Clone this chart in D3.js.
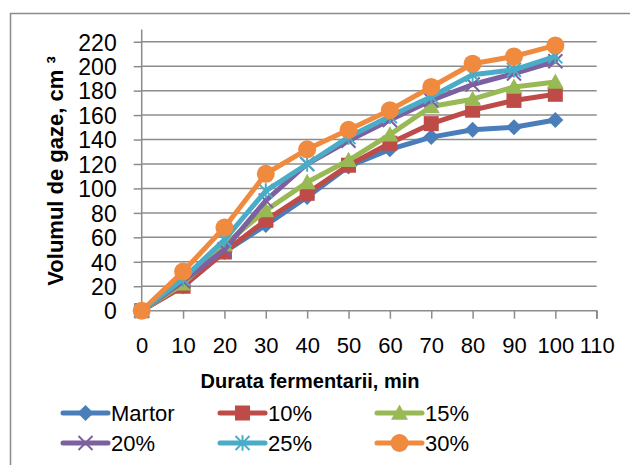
<!DOCTYPE html>
<html><head><meta charset="utf-8">
<script src="https://cdn.jsdelivr.net/npm/d3@7/dist/d3.min.js"></script>
<style>body{margin:0;background:#fff}svg{display:block}</style>
</head><body>
<svg id="c" width="630" height="465"></svg>
<script>
const minutes = [0,10,20,30,40,50,60,70,80,90,100];
const seriesNames = ["Martor","10%","15%","20%","25%","30%"];
const martor = [0,20,48,70,93,118,132,142,148,150,156];
const p10 = [0,20,48,74,96,119,137,153,164,172,177];
const p15 = [0,22,54,82,105,123,144,167,173,183,187];
const p20 = [0,24,50,90,120,139,156,172,185,194,204];
const p25 = [0,26,58,98,120,142,159,175,193,197,208];
const p30 = [0,32,68,112,132,148,164,183,202,208,217];
const yTicks = [0,20,40,60,80,100,120,140,160,180,200,220];
const xTicks = [0,10,20,30,40,50,60,70,80,90,100,110];
const colors = ["#4A7EBB","#BE4B48","#98B954","#7D60A0","#4AACC6","#F08A3E"];
const symbols = ["diamond","square","triangle","x","star","circle"];
const values = [martor,p10,p15,p20,p25,p30];

const svg = d3.select("#c");
const font = "'Liberation Sans', Arial, sans-serif";

// frame
svg.append("rect").attr("x",10.5).attr("y",13.5).attr("width",640).attr("height",470)
  .attr("fill","none").attr("stroke","#8c8c8c").attr("stroke-width",1.5);

const x = d3.scaleLinear().domain([0,110]).range([141.7,596.7]);
const y = d3.scaleLinear().domain([0,230]).range([310.7,29.5]);

// gridlines
svg.append("g").selectAll("line").data(yTicks.filter(d=>d>0)).join("line")
  .attr("x1",x(0)).attr("x2",x(110)).attr("y1",d=>y(d)).attr("y2",d=>y(d))
  .attr("stroke","#8c8c8c").attr("stroke-width",1.5);

// y axis
const ya = svg.append("g").attr("transform",`translate(${x(0)},0)`)
  .call(d3.axisLeft(y).tickValues(yTicks).tickSize(8).tickPadding(17));
ya.select(".domain").attr("stroke","#8c8c8c").attr("stroke-width",1.5).attr("d",`M0,${y(230)}V${y(0)}`);
ya.selectAll(".tick line").attr("stroke","#8c8c8c").attr("stroke-width",1.5);
ya.selectAll("text").attr("font-family",font).attr("font-size",23).attr("fill","#000").attr("dy","0.36em");

// x axis
const xa = svg.append("g").attr("transform",`translate(0,${y(0)})`)
  .call(d3.axisBottom(x).tickValues(xTicks).tickSize(8).tickPadding(19));
xa.select(".domain").attr("stroke","#8c8c8c").attr("stroke-width",1.5).attr("d",`M${x(0)},0H${x(110)}V8`);
xa.selectAll(".tick line").attr("stroke","#8c8c8c").attr("stroke-width",1.5);
xa.selectAll("text").attr("font-family",font).attr("font-size",22).attr("fill","#000").attr("dy","0.71em");

// titles
svg.append("text").attr("x",310).attr("y",388).attr("text-anchor","middle")
  .attr("font-family",font).attr("font-weight","bold").attr("font-size",20).text("Durata fermentarii, min");
svg.append("text").attr("transform","translate(63,171) rotate(-90)").attr("text-anchor","middle")
  .attr("font-family",font).attr("font-weight","bold").attr("font-size",22).text("Volumul de gaze, cm ³");

function drawMarker(g, i, cx, cy, scale) {
  const c = colors[i], s = symbols[i];
  const k = scale || 1;
  if (s === "diamond") {
    const r = 8*k;
    g.append("path").attr("d",`M${cx},${cy-r}L${cx+r},${cy}L${cx},${cy+r}L${cx-r},${cy}Z`).attr("fill",c);
  } else if (s === "square") {
    const r = 7.5*k;
    g.append("rect").attr("x",cx-r).attr("y",cy-r).attr("width",2*r).attr("height",2*r).attr("fill",c);
  } else if (s === "triangle") {
    const r = 8.5*k;
    g.append("path").attr("d",`M${cx},${cy-r}L${cx+r},${cy+r*0.8}L${cx-r},${cy+r*0.8}Z`).attr("fill",c);
  } else if (s === "x") {
    const r = 7*k;
    g.append("path").attr("d",`M${cx-r},${cy-r}L${cx+r},${cy+r}M${cx+r},${cy-r}L${cx-r},${cy+r}`)
      .attr("stroke",c).attr("stroke-width",2);
  } else if (s === "star") {
    const r = 7*k;
    g.append("path").attr("d",`M${cx-r},${cy-r}L${cx+r},${cy+r}M${cx+r},${cy-r}L${cx-r},${cy+r}M${cx},${cy-r*1.1}V${cy+r*1.1}`)
      .attr("stroke",c).attr("stroke-width",2);
  } else {
    g.append("circle").attr("cx",cx).attr("cy",cy).attr("r",9*k).attr("fill",c);
  }
}

const line = d3.line().x((d,j)=>x(minutes[j])).y(d=>y(d));
const plot = svg.append("g");
values.forEach((vals,i)=>{
  const g = plot.append("g");
  g.append("path").datum(vals).attr("d",line).attr("fill","none")
    .attr("stroke",colors[i]).attr("stroke-width",5).attr("stroke-linejoin","round").attr("stroke-linecap","round");
  vals.forEach((v,j)=>drawMarker(g,i,x(minutes[j]),y(v)));
});

// legend
const legX = [63,220,377], legY = [413,443];
seriesNames.forEach((name,i)=>{
  const lx = legX[i%3], ly = legY[Math.floor(i/3)];
  const g = svg.append("g");
  g.append("line").attr("x1",lx).attr("x2",lx+45).attr("y1",ly).attr("y2",ly)
    .attr("stroke",colors[i]).attr("stroke-width",5).attr("stroke-linecap","round");
  drawMarker(g,i,lx+22.5,ly);
  g.append("text").attr("x",lx+48).attr("y",ly).attr("dy","0.36em")
    .attr("font-family",font).attr("font-size",22).text(name);
});
</script>
</body></html>
